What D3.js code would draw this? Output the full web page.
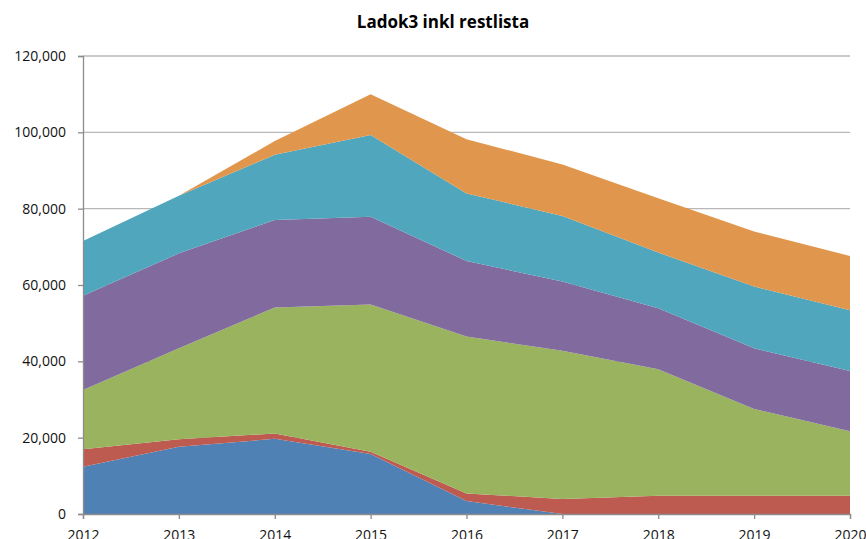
<!DOCTYPE html>
<html>
<head>
<meta charset="utf-8">
<script src="https://cdn.jsdelivr.net/npm/d3@7"></script>
<style>
  body { margin: 0; background: #fff; }
  svg { display: block; }
</style>
</head>
<body>
<svg id="chart" width="866" height="539"></svg>
<script>
var years = [2012, 2013, 2014, 2015, 2016, 2017, 2018, 2019, 2020];
var seriesNames = ["s1", "s2", "s3", "s4", "s5", "s6"];
var s1 = [12400, 17600, 19700, 15700, 3400, 0, 0, 0, 0];
var s2 = [4550, 2000, 1400, 600, 2000, 3900, 4800, 4800, 4800];
var s3 = [15550, 23800, 33000, 38600, 41100, 38900, 33100, 22700, 16900];
var s4 = [24700, 24900, 22900, 23000, 19800, 18100, 16000, 15900, 15800];
var s5 = [14300, 15100, 17100, 21400, 17700, 17200, 14600, 16200, 15900];
var s6 = [0, 0, 3600, 10700, 14200, 13500, 14200, 14400, 14200];
var yTicks = [0, 20000, 40000, 60000, 80000, 100000, 120000];
var colors = ["#4f81b5", "#be5b50", "#9ab35e", "#816b9e", "#4fa6bd", "#e0974d"];

var svg = d3.select("#chart"),
  margin = {left: 83, right: 16, top: 56, bottom: 25},
  width = 866, height = 539;

var rows = years.map(function (y, i) {
  return {year: y, s1: s1[i], s2: s2[i], s3: s3[i], s4: s4[i], s5: s5[i], s6: s6[i]};
});

var x = d3.scaleLinear().domain([2012, 2020]).range([margin.left, width - margin.right]);
var y = d3.scaleLinear().domain([0, 120000]).range([height - margin.bottom, margin.top]);

var stack = d3.stack().keys(seriesNames)(rows);

// gridlines
svg.append("g")
  .selectAll("line")
  .data(yTicks.slice(1))
  .enter().append("line")
  .attr("x1", margin.left).attr("x2", width - margin.right)
  .attr("y1", function (d) { return y(d); })
  .attr("y2", function (d) { return y(d); })
  .attr("stroke", "#b8b8b8").attr("stroke-width", 1.3);

var area = d3.area()
  .x(function (d) { return x(d.data.year); })
  .y0(function (d) { return y(d[0]); })
  .y1(function (d) { return y(d[1]); });

svg.append("g")
  .selectAll("path")
  .data(stack)
  .enter().append("path")
  .attr("d", area)
  .attr("fill", function (d, i) { return colors[i]; });

var yAxis = svg.append("g")
  .attr("transform", "translate(" + margin.left + ",0)")
  .call(d3.axisLeft(y).tickValues(yTicks).tickFormat(d3.format(",")).tickSize(5).tickPadding(12));

var xAxis = svg.append("g")
  .attr("transform", "translate(0," + (height - margin.bottom) + ")")
  .call(d3.axisBottom(x).tickValues(years).tickFormat(d3.format("d")).tickSize(5).tickPadding(11));

[yAxis, xAxis].forEach(function (g) {
  g.selectAll("path, line").attr("stroke", "#8c8c8c").attr("stroke-width", 1.3);
  g.selectAll("text").attr("fill", "#111")
    .style("font-family", "'Open Sans', sans-serif").style("font-size", "14px");
});

svg.append("text")
  .attr("x", 443).attr("y", 28)
  .attr("text-anchor", "middle")
  .style("font-family", "'Open Sans', sans-serif")
  .style("font-weight", "bold").style("font-size", "17px")
  .text("Ladok3 inkl restlista");
</script>
</body>
</html>
